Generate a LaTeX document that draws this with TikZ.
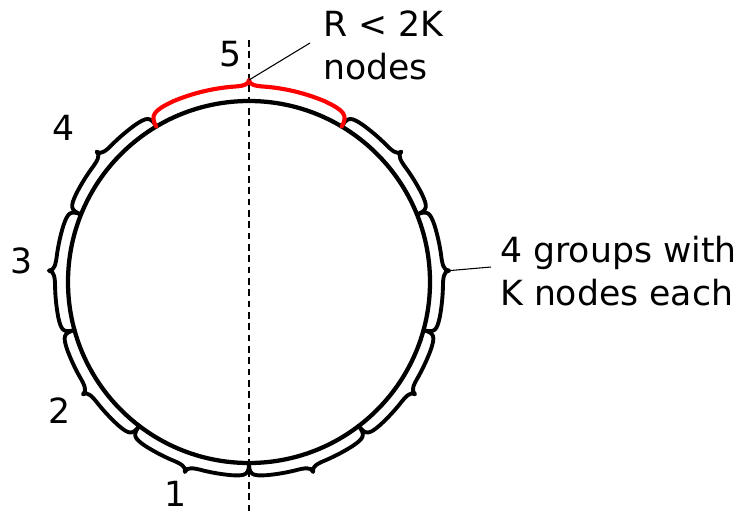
\documentclass[tikz,border=0pt]{standalone}
\usepackage{fontspec}
\setmainfont{DejaVu Sans}
\begin{document}
\begin{tikzpicture}[x=0.75pt,y=0.75pt,
  ringline/.style={line width=3.2pt},
  grp/.style={line width=2.9pt, line join=round, line cap=round},
  redgrp/.style={line width=3.1pt, red, line join=round, line cap=round},
  axisline/.style={line width=1pt, dash pattern=on 5pt off 3.5pt},
  leader/.style={line width=0.8pt},
  lbl/.style={inner sep=0pt, font=\fontsize{26}{32.25}\selectfont},
  txt/.style={inner sep=0pt, align=left, anchor=base west, font=\fontsize{26}{32.25}\selectfont}]
\useasboundingbox (0,0) rectangle (741,515);
\def\cR{181}
\coordinate (C) at (249,233);
% dashed axis
\coordinate (axtop) at (249,475);
\coordinate (axbot) at (249,0);
\draw[axisline] (axtop) -- (axbot);
% ring
\draw[ringline] (C) circle[radius=\cR];
\begin{scope}[shift={(C)}]
  % black group braces
  \def\brP{13}\def\brH{19.5}\def\cu{5}
  \foreach \ga/\gb in {270/232.7, 232.7/195.4, 195.4/158.1, 158.1/120.8,
                       -90/-52.7, -52.7/-15.4, -15.4/21.9, 21.9/59.2} {
    \pgfmathsetmacro\gm{(\ga+\gb)/2}
    \pgfmathsetmacro\gs{sign(\gb-\ga)}
    \draw[grp] (\ga:\cR) .. controls (\ga:{\cR+0.9*\brP}) and ({\ga+\gs}:{\cR+\brP}) .. ({\ga+\cu*\gs}:{\cR+\brP})
      arc[start angle={\ga+\cu*\gs}, end angle={\gm-5*\gs}, radius={\cR+\brP}]
      .. controls ({\gm-2*\gs}:{\cR+\brP}) and (\gm:{\cR+\brP+1}) .. (\gm:{\cR+\brH})
      .. controls (\gm:{\cR+\brP+1}) and ({\gm+2*\gs}:{\cR+\brP}) .. ({\gm+5*\gs}:{\cR+\brP})
      arc[start angle={\gm+5*\gs}, end angle={\gb-\cu*\gs}, radius={\cR+\brP}]
      .. controls ({\gb-\gs}:{\cR+\brP}) and (\gb:{\cR+0.9*\brP}) .. (\gb:\cR);
  }
  \coordinate (gtip) at (3.25:{\cR+\brH});
  % red brace
  \def\rP{15}\def\rH{21}\def\rcu{8}
  \draw[redgrp] (120.8:\cR) .. controls (120.8:{\cR+0.9*\rP}) and ({120.8-2}:{\cR+\rP}) .. ({120.8-\rcu}:{\cR+\rP})
      arc[start angle={120.8-\rcu}, end angle={95}, radius={\cR+\rP}]
      .. controls (92:{\cR+\rP}) and (90:{\cR+\rP+1}) .. (90:{\cR+\rH})
      .. controls (90:{\cR+\rP+1}) and (88:{\cR+\rP}) .. (85:{\cR+\rP})
      arc[start angle=85, end angle={59.2+\rcu}, radius={\cR+\rP}]
      .. controls ({59.2+2}:{\cR+\rP}) and (59.2:{\cR+0.9*\rP}) .. (59.2:\cR);
  \coordinate (rtip) at (90:{\cR+\rH});
\end{scope}
% leaders and texts
\coordinate (rend) at (310,472);
\draw[leader] (rtip) -- (rend);
\node[txt] (rtext) at (323,435) {R < 2K\\nodes};
\coordinate (gend) at (491,248);
\draw[leader] (gtip) -- (gend);
\node[txt] (gtext) at (500,210) {4 groups with\\K nodes each};
% group numbers
\node[lbl] (n5) at (230.5,461) {5};
\node[lbl] (n4) at (64,387) {4};
\node[lbl] (n3) at (22,254) {3};
\node[lbl] (n2) at (59.5,104) {2};
\node[lbl] (n1) at (176,21) {1};
\end{tikzpicture}
\end{document}
